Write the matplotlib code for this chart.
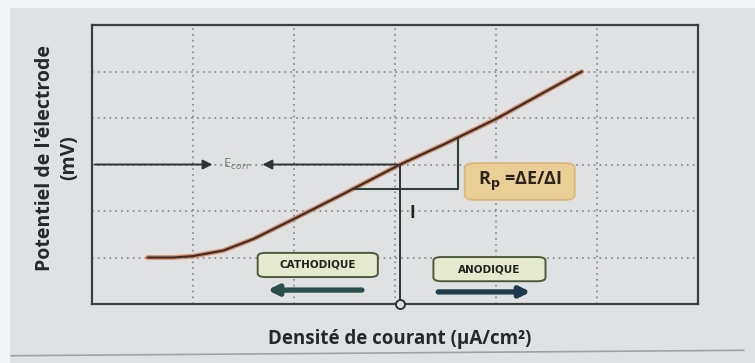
import matplotlib.pyplot as plt
from matplotlib.patches import FancyBboxPatch, Rectangle
import numpy as np

# polarisation curve (arbitrary grid units)
curve_x = [0.55, 0.8, 1.0, 1.3, 1.6, 2.0, 2.5, 3.05, 3.5, 4.0, 4.5, 4.85]
curve_y = [1.0, 1.0, 1.03, 1.15, 1.4, 1.83, 2.38, 3.0, 3.45, 3.98, 4.58, 5.0]

e_corr = 3.0
i_corr = 3.05
delta_low = 2.47
delta_right = 3.62

grid_ticks = [1, 2, 3, 4, 5]

bg = '#dfe1e3'


def draw_box(ax, x0, x1, y0, y1, text, fc, ec, size, rad=0.08):
    box = FancyBboxPatch((x0, y0), x1 - x0, y1 - y0,
                         boxstyle='round,pad=0,rounding_size=%s' % rad,
                         fc=fc, ec=ec, lw=1.4, zorder=5)
    ax.add_patch(box)
    ax.text((x0 + x1) / 2, (y0 + y1) / 2, text, ha='center', va='center',
            fontsize=size, fontweight='bold', color='#1e2320', zorder=6,
            family='DejaVu Sans')


def main():
    plt.rcParams['font.family'] = ['Open Sans', 'DejaVu Sans']
    fig = plt.figure(figsize=(7.55, 3.63), dpi=100)
    fig.patch.set_facecolor(bg)

    # white strips at the top and left of the page
    fig.add_artist(Rectangle((0, 0.978), 1, 0.03, transform=fig.transFigure,
                             fc='#f4f5f6', ec='none'))
    fig.add_artist(Rectangle((0, 0), 0.013, 1, transform=fig.transFigure,
                             fc='#f4f5f6', ec='none'))
    fig.add_artist(plt.Line2D([0.015, 0.985], [0.02, 0.035], transform=fig.transFigure,
                              color='#9fa2a5', lw=1.2))

    ax = fig.add_axes([0.1219, 0.1625, 0.8026, 0.7686])
    ax.set_facecolor(bg)
    ax.set_xlim(0, 6)
    ax.set_ylim(0, 6)
    ax.set_xticks([])
    ax.set_yticks([])
    for s in ax.spines.values():
        s.set_color('#3c3f40')
        s.set_linewidth(1.6)

    for t in grid_ticks:
        ax.axvline(t, color='#80858a', lw=1.2, ls=(0, (1, 2.5)), zorder=1)
        ax.axhline(t, color='#80858a', lw=1.2, ls=(0, (1, 2.5)), zorder=1)

    # curve: orange halo with a dark core
    ax.plot(curve_x, curve_y, color='#cf7a52', lw=3.4, alpha=0.8, zorder=3,
            solid_capstyle='round')
    ax.plot(curve_x, curve_y, color='#3b2c27', lw=1.5, zorder=4,
            solid_capstyle='round')

    # E_corr arrows
    ax.annotate('', xy=(1.22, e_corr), xytext=(0, e_corr),
                arrowprops=dict(arrowstyle='-|>', color='#2f3436', lw=1.4,
                                mutation_scale=14), zorder=4)
    ax.annotate('', xy=(1.66, e_corr), xytext=(i_corr, e_corr),
                arrowprops=dict(arrowstyle='-|>', color='#2f3436', lw=1.4,
                                mutation_scale=14), zorder=4)
    ax.text(1.3, e_corr, r'E$_{corr}$', fontsize=9.5, color='#6d8a6c',
            ha='left', va='center', zorder=4)

    # current line down to the axis
    ax.plot([i_corr, i_corr], [0, e_corr], color='#2f3436', lw=1.4, zorder=4)
    ax.plot([i_corr], [0], marker='o', ms=6.5, mfc=bg, mec='#2f3436', mew=1.4,
            clip_on=False, zorder=7)
    ax.text(3.17, 1.96, 'I', fontsize=12.5, fontweight='bold', color='#1e2320',
            ha='center', va='center')

    # delta E / delta I construction
    x_low = np.interp(delta_low, curve_y, curve_x)
    y_right = np.interp(delta_right, curve_x, curve_y)
    ax.plot([x_low, delta_right, delta_right], [delta_low, delta_low, y_right],
            color='#33413d', lw=1.5, zorder=3)

    box = FancyBboxPatch((3.69, 2.24), 1.09, 0.79,
                         boxstyle='round,pad=0,rounding_size=0.1',
                         fc='#e9cf96', ec='#dcb978', lw=1.3, zorder=5)
    ax.add_patch(box)
    ax.text(4.235, 2.63, r'R$_\mathbf{p}$ =ΔE/ΔI', ha='center', va='center',
            fontsize=13, fontweight='bold', color='#2a2420', zorder=6)

    # cathodic / anodic labels with direction arrows
    draw_box(ax, 1.64, 2.83, 0.58, 1.1, 'CATHODIQUE', '#e4e9cf', '#4d5a3e', 7.5)
    draw_box(ax, 3.38, 4.49, 0.49, 1.01, 'ANODIQUE', '#e4e9cf', '#4d5a3e', 7.5)
    ax.annotate('', xy=(1.71, 0.30), xytext=(2.70, 0.30),
                arrowprops=dict(arrowstyle='-|>', color='#2c4e4c', lw=3.8,
                                mutation_scale=15), zorder=5)
    ax.annotate('', xy=(4.37, 0.26), xytext=(3.40, 0.26),
                arrowprops=dict(arrowstyle='-|>', color='#1f3a4a', lw=3.8,
                                mutation_scale=15), zorder=5)

    fig.text(0.076, 0.565, "Potentiel de l'électrode\n(mV)", rotation=90,
             ha='center', va='center', fontsize=14, fontweight='bold',
             color='#26282a', linespacing=1.3)
    fig.text(0.53, 0.066, 'Densité de courant (µA/cm²)', ha='center', va='center',
             fontsize=13.5, fontweight='bold', color='#26282a')

    fig.savefig('out.png', dpi=100, facecolor=fig.get_facecolor())


if __name__ == "__main__":
    main()
